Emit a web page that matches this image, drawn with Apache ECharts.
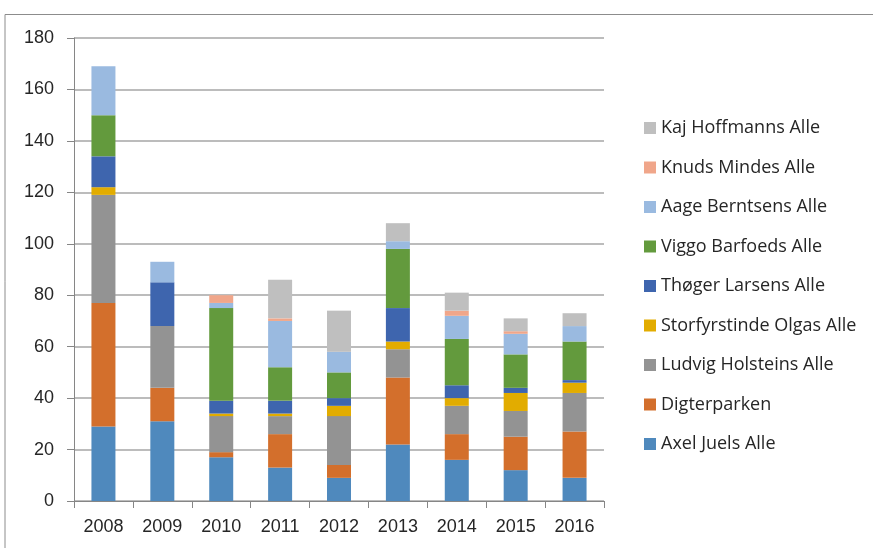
<!DOCTYPE html>
<html>
<head>
<meta charset="utf-8">
<script src="https://cdn.jsdelivr.net/npm/echarts@6/dist/echarts.min.js"></script>
<style>
  html, body { margin: 0; padding: 0; background: #fff; }
  #main { width: 873px; height: 548px; }
</style>
</head>
<body>
<div id="main"></div>
<script>
// years on the x axis
const years = ['2008', '2009', '2010', '2011', '2012', '2013', '2014', '2015', '2016'];

// one array per street, bottom to top of the stack
const axelJuels       = [29, 31, 17, 13, 9, 22, 16, 12, 9];
const digterparken    = [48, 13, 2, 13, 5, 26, 10, 13, 18];
const ludvigHolsteins = [42, 24, 14, 7, 19, 11, 11, 10, 15];
const storfyrstinde   = [3, 0, 1, 1, 4, 3, 3, 7, 4];
const thogerLarsens   = [12, 17, 5, 5, 3, 13, 5, 2, 1];
const viggoBarfoeds   = [16, 0, 36, 13, 10, 23, 18, 13, 15];
const aageBerntsens   = [19, 8, 2, 18, 8, 3, 9, 8, 6];
const knudsMindes     = [0, 0, 3, 1, 0, 0, 2, 1, 0];
const kajHoffmanns    = [0, 0, 0, 15, 16, 7, 7, 5, 5];

const yTicks = [0, 20, 40, 60, 80, 100, 120, 140, 160, 180];

const seriesNames = [
    'Axel Juels Alle', 'Digterparken', 'Ludvig Holsteins Alle', 'Storfyrstinde Olgas Alle',
    'Thøger Larsens Alle', 'Viggo Barfoeds Alle', 'Aage Berntsens Alle', 'Knuds Mindes Alle',
    'Kaj Hoffmanns Alle'
];
const seriesData = [
    axelJuels, digterparken, ludvigHolsteins, storfyrstinde, thogerLarsens,
    viggoBarfoeds, aageBerntsens, knudsMindes, kajHoffmanns
];
const colors = ['#4F89BD', '#D36F2C', '#939393', '#E2AC00', '#3E65AE', '#639A3D', '#9ABAE0', '#F0A68A', '#BFBFBF'];

const chart = echarts.init(document.getElementById('main'));

const fontFamily = 'Liberation Sans';

chart.setOption({
    animation: false,
    color: colors,
    textStyle: { fontFamily: fontFamily },
    grid: { left: 74, right: 269, top: 38, bottom: 47 },
    legend: {
        orient: 'vertical',
        left: 639,
        top: 113,
        itemWidth: 12,
        itemHeight: 12,
        itemGap: 19.5,
        icon: 'rect',
        // legend lists the top of the stack first
        data: seriesNames.slice().reverse(),
        textStyle: { fontSize: 18, lineHeight: 20, color: '#262626', fontFamily: 'Open Sans' }
    },
    graphic: [{
        type: 'polyline',
        shape: { points: [[5, 548], [5, 14.5], [873, 14.5]] },
        style: { stroke: '#8c8c8c', lineWidth: 1, fill: null }
    }],
    xAxis: {
        type: 'category',
        data: years,
        axisLine: { lineStyle: { color: '#868686', width: 1 } },
        axisTick: { show: true, length: 7, lineStyle: { color: '#868686' } },
        axisLabel: { fontSize: 18, color: '#262626', margin: 17 }
    },
    yAxis: {
        type: 'value',
        min: yTicks[0],
        max: yTicks[yTicks.length - 1],
        interval: 20,
        axisLine: { show: true, lineStyle: { color: '#868686', width: 1 } },
        axisTick: { show: true, length: 7, lineStyle: { color: '#868686' } },
        axisLabel: { fontSize: 18, color: '#262626', margin: 20 },
        splitLine: { lineStyle: { color: '#a6a6a6', width: 1.5 } }
    },
    series: seriesNames.map((name, i) => ({
        name: name,
        type: 'bar',
        stack: 'total',
        barWidth: 24,
        data: seriesData[i]
    }))
});
</script>
</body>
</html>
